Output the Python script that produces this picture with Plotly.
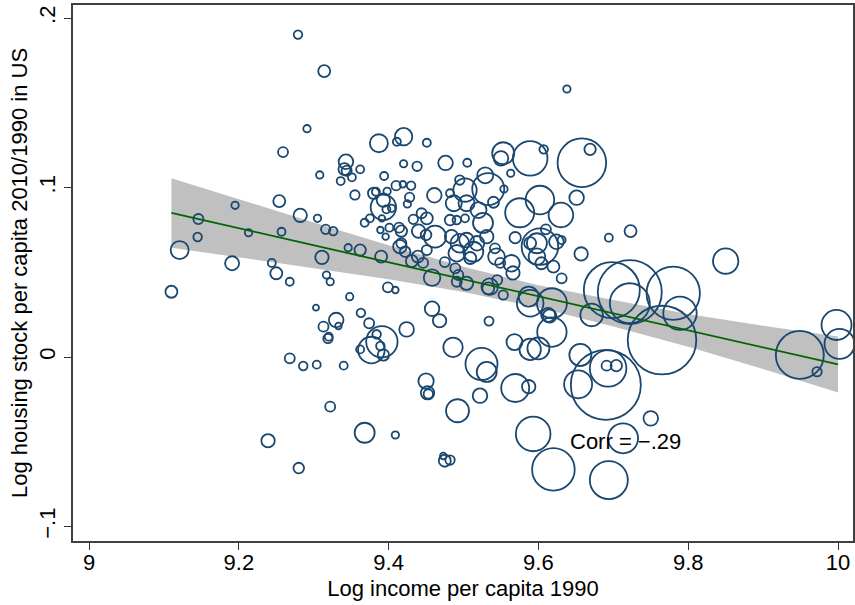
import numpy as np
import plotly.graph_objects as go

# Log income per capita 1990
income = [9.279, 9.314, 9.291, 9.259, 9.308, 9.254, 9.195, 9.282, 9.305, 9.146,
          9.145, 9.213, 9.257, 9.316, 9.326, 9.121, 9.191, 9.244, 9.250, 9.311,
          9.346, 9.362, 9.390, 9.317, 9.268, 9.322, 9.110, 9.399, 9.409, 9.348,
          9.303, 9.330, 9.333, 9.313, 9.363, 9.374, 9.320, 9.319, 9.391, 9.377,
          9.362, 9.384, 9.389, 9.393, 9.424, 9.458, 9.468, 9.486, 9.268, 9.286,
          9.304, 9.340, 9.450, 9.452, 9.453, 9.492, 9.322, 9.368, 9.409, 9.239,
          9.280, 9.475, 9.482, 9.473, 9.534, 9.522, 9.524, 9.531, 9.568, 9.589,
          9.600, 9.618, 9.613, 9.671, 9.569, 9.587, 9.593, 9.620, 9.694, 9.713,
          9.750, 9.656, 9.653, 9.690, 9.693, 9.691, 9.704, 9.765, 9.698, 9.722,
          9.722, 9.780, 9.789, 9.949, 9.998, 10.002, 9.972, 9.850, 9.723, 9.694,
          9.657, 9.651, 9.658, 9.669, 9.638, 9.589, 9.607, 9.553, 9.550, 9.563,
          9.529, 9.533, 9.554, 9.540, 9.602, 9.575, 9.630, 9.610, 9.569, 9.602,
          9.598, 9.624, 9.631, 9.589, 9.631, 9.544, 9.564, 9.566, 9.549, 9.535,
          9.553, 9.587, 9.589, 9.618, 9.615, 9.526, 9.531, 9.387, 9.420, 9.411,
          9.451, 9.476, 9.505, 9.420, 9.438, 9.343, 9.341, 9.344, 9.362, 9.336,
          9.351, 9.394, 9.355, 9.380, 9.383, 9.398, 9.410, 9.419, 9.430, 9.461,
          9.428, 9.425, 9.393, 9.393, 9.397, 9.404, 9.391, 9.375, 9.368, 9.389,
          9.396, 9.401, 9.414, 9.417, 9.433, 9.444, 9.451, 9.440, 9.450, 9.462,
          9.415, 9.417, 9.422, 9.439, 9.482, 9.491, 9.502, 9.487, 9.504, 9.495,
          9.502, 9.482, 9.520, 9.495, 9.504, 9.518, 9.542, 9.484, 9.491, 9.513,
          9.458, 9.446, 9.489, 9.493, 9.491, 9.504, 9.533, 9.545, 9.509, 9.451,
          9.431, 9.475, 9.620, 9.604, 9.598]

# Log housing stock per capita 2010/1990
housing = [0.1902, 0.1687, 0.1347, 0.1209, 0.1074, 0.0920, 0.0895, 0.0836, 0.0818, 0.0814,
           0.0708, 0.0733, 0.0739, 0.0753, 0.0743, 0.0631, 0.0553, 0.0555, 0.0494, 0.0588,
           0.0645, 0.0631, 0.0592, 0.0484, 0.0444, 0.0444, 0.0385, 0.0411, 0.0395, 0.0356,
           0.0291, 0.0218, 0.0183, 0.0179, 0.0260, 0.0199, 0.0120, 0.0109, 0.0090, 0.0041,
           0.0045, 0.0134, 0.0065, 0.0012, 0.0163, 0.0285, 0.0214, 0.0057, -0.0008, -0.0053,
           -0.0045, -0.0051, -0.0142, -0.0211, -0.0218, -0.0317, -0.0293, -0.0447, -0.0460, -0.0494,
           -0.0655, -0.0612, -0.0608, -0.0584, 0.0212, -0.0228, -0.0041, -0.0088, 0.0088, 0.0045,
           0.0051, 0.0147, 0.0248, 0.0248, -0.0183, -0.0175, -0.0454, -0.0663, -0.0726, -0.0480,
           -0.0362, 0.0012, -0.0161, -0.0165, -0.0067, -0.0051, -0.0051, 0.0100, 0.0395, 0.0383,
           0.0317, 0.0376, 0.0258, 0.0012, 0.0189, 0.0077, -0.0087, 0.0566, 0.0743, 0.0704,
           0.0608, 0.0940, 0.1146, 0.1225, 0.1581, 0.1172, 0.1225, 0.1202, 0.1172, 0.1084,
           0.1072, 0.0991, 0.0991, 0.0913, 0.0926, 0.0851, 0.0838, 0.0753, 0.0704, 0.0651,
           0.0671, 0.0680, 0.0690, 0.0672, 0.0464, 0.0592, 0.0553, 0.0496, 0.0555, 0.0415,
           0.0366, 0.0356, 0.0317, 0.0317, 0.0242, 0.0791, 0.0710, 0.1261, 0.1300, 0.1270,
           0.1264, 0.1145, 0.1146, 0.1140, 0.1125, 0.1152, 0.1109, 0.1099, 0.1107, 0.1038,
           0.1060, 0.1068, 0.0956, 0.0966, 0.0975, 0.0978, 0.1011, 0.1019, 0.1011, 0.0954,
           0.0942, 0.0903, 0.0883, 0.0926, 0.0871, 0.0877, 0.0818, 0.0818, 0.0792, 0.0749,
           0.0710, 0.0763, 0.0763, 0.0743, 0.0812, 0.0848, 0.0818, 0.0743, 0.0720, 0.0710,
           0.0651, 0.0671, 0.0621, 0.0592, 0.0808, 0.0808, 0.0818, 0.0907, 0.0907, 0.1044,
           0.0985, 0.0966, 0.0867, 0.0671, 0.0690, 0.0671, 0.0641, 0.0710, 0.0612, 0.0621,
           0.0468, 0.0555, 0.0523, 0.0484, 0.0444, 0.0435, 0.0405, 0.0454, 0.0584, 0.0631,
           0.0566, 0.0560, 0.0533, 0.0553, 0.0592]

# Population weight (bubble area)
pop = [4.6, 9, 3.4, 6.3, 3.4, 9, 3.4, 11.2, 3.4, 6.3,
       4.6, 3.4, 4, 5.5, 4.6, 20.3, 12.3, 4, 9, 11.2,
       3.4, 8.1, 9, 3.4, 4, 3.4, 9, 6.3, 2.7, 3.4,
       2.3, 13.3, 2.7, 6.3, 4.6, 6.3, 4, 5.5, 61.6, 44.2,
       4, 4.6, 4.6, 8.1, 13.3, 13.3, 11.2, 23.5, 6.3, 4.6,
       4, 4, 14.8, 11.2, 5.5, 33, 6.3, 25, 3.4, 11.2,
       7, 9, 5.5, 2.7, 5.1, 13.3, 64, 25, 16, 28.6,
       30.3, 54, 12.3, 31.9, 49, 11.2, 74.8, 113.4, 90.3, 56.3,
       13.3, 30.3, 49, 306, 83.7, 6.3, 8.1, 294, 196, 256,
       100, 178, 69.7, 144, 56.3, 56.3, 5.5, 40.3, 9, 4,
       11.2, 13.3, 147.6, 8.1, 3.4, 74.8, 4.6, 30.3, 13.3, 3.4,
       16, 64, 3.4, 7.6, 51, 52.6, 37.8, 6.3, 8.1, 83.7,
       25, 13.3, 4, 9, 6.3, 17.2, 17.2, 11.2, 6.3, 17.2,
       5.5, 25, 44.2, 56.3, 11.2, 25, 11.2, 20.3, 18.9, 4,
       4, 13.3, 4, 3.4, 5.5, 13.3, 9, 6.3, 4, 4,
       4, 4, 5.5, 8.1, 4, 3.4, 5.5, 2.7, 4.6, 13.3,
       5.5, 3.4, 40.3, 11.2, 4, 3.4, 2.7, 4, 4, 2.7,
       2.7, 4, 6.3, 8.1, 5.5, 6.3, 9, 11.2, 7, 30.3,
       11.2, 6.3, 7, 9, 7, 4.6, 4, 16, 16, 5.5,
       34.2, 4, 16, 21.6, 13.3, 13.3, 6.3, 11.2, 17.2, 25,
       17.2, 6.3, 6.3, 6.3, 6.3, 11.2, 9, 6.3, 9, 6.3,
       9, 6.3, 9, 9, 17.2]

# Linear fit with 95% confidence interval
fit_x = [9.11, 9.2, 9.3, 9.4, 9.5, 9.6, 9.7, 9.8, 9.9, 10.0]
fit_y = [0.0850, 0.0760, 0.0659, 0.0559, 0.0458, 0.0358, 0.0258, 0.0157, 0.0057, -0.0044]
ci_hi = [0.1055, 0.0930, 0.0794, 0.0659, 0.0533, 0.0424, 0.0336, 0.0254, 0.0185, 0.0121]
ci_lo = [0.0645, 0.0590, 0.0524, 0.0459, 0.0383, 0.0292, 0.0180, 0.0060, -0.0071, -0.0209]

x_ticks = [9, 9.2, 9.4, 9.6, 9.8, 10]
x_ticklabels = ["9", "9.2", "9.4", "9.6", "9.8", "10"]
y_ticks = [-0.1, 0, 0.1, 0.2]
y_ticklabels = ["\u2212.1", "0", ".1", ".2"]

corr_label = "Corr = \u2212.29"
corr_pos = (9.716, -0.0496)

FONT = "Liberation Sans, Arial, Helvetica, sans-serif"
sizes = [4 * np.sqrt(p) for p in pop]

fig = go.Figure()
fig.add_trace(go.Scatter(
    x=fit_x + fit_x[::-1], y=ci_hi + ci_lo[::-1],
    fill="toself", fillcolor="#c0c0c0", line=dict(width=0),
    mode="lines", hoverinfo="skip", showlegend=False))
fig.add_trace(go.Scatter(
    x=income, y=housing, mode="markers",
    marker=dict(size=sizes, sizemode="diameter", color="rgba(0,0,0,0)",
                opacity=1, line=dict(color="#1a476f", width=1.8)),
    showlegend=False))
fig.add_trace(go.Scatter(
    x=fit_x, y=fit_y, mode="lines",
    line=dict(color="#006400", width=1.8), showlegend=False))

fig.add_annotation(x=corr_pos[0], y=corr_pos[1], text=corr_label, showarrow=False,
                   font=dict(family=FONT, size=22, color="black"),
                   xanchor="center", yanchor="middle")

fig.update_layout(
    width=855, height=605,
    margin=dict(l=73, r=2, t=5, b=64),
    paper_bgcolor="white", plot_bgcolor="white",
    font=dict(family=FONT, size=22, color="black"),
)
fig.update_xaxes(
    range=[8.9786, 10.0200], tickvals=x_ticks, ticktext=x_ticklabels,
    ticks="outside", ticklen=7, tickwidth=1.2, tickcolor="#333",
    ticklabelstandoff=-6,
    showgrid=False, zeroline=False, automargin=False,
    showline=True, linecolor="#404040", linewidth=2, mirror=True,
    title=dict(text="Log income per capita 1990", standoff=6,
               font=dict(family=FONT, size=22)),
    tickfont=dict(family=FONT, size=22),
)
fig.update_yaxes(
    range=[-0.10855, 0.20767], tickvals=y_ticks, ticktext=y_ticklabels,
    tickangle=-90, ticklabelstandoff=0,
    ticks="outside", ticklen=7, tickwidth=1.2, tickcolor="#333",
    showgrid=False, zeroline=False, automargin=False,
    showline=True, linecolor="#404040", linewidth=2, mirror=True,
    title=dict(text="Log housing stock per capita 2010/1990 in US", standoff=2,
               font=dict(family=FONT, size=22)),
    tickfont=dict(family=FONT, size=22),
)

fig.write_html("out.html", config={"displayModeBar": False},
               post_script="document.body.style.margin='0';")
